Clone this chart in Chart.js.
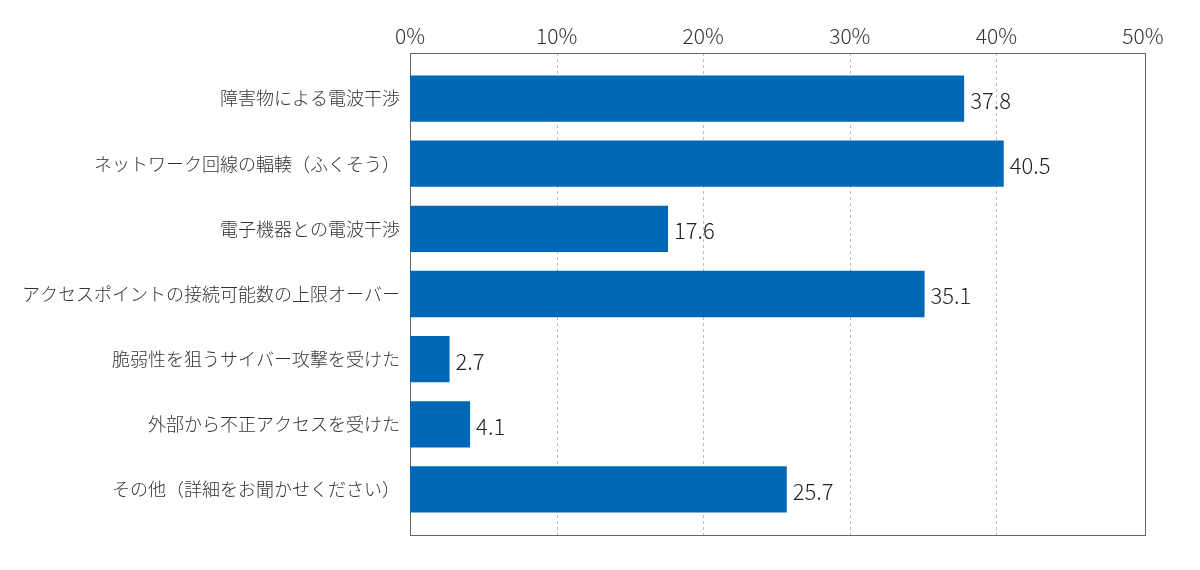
<!DOCTYPE html>
<html>
<head>
<meta charset="utf-8">
<script src="https://cdn.jsdelivr.net/npm/chart.js@4/dist/chart.umd.min.js"></script>
<style>
  html, body { margin: 0; padding: 0; background: #fff; }
  #wrap { width: 1200px; height: 570px; }
</style>
</head>
<body>
<div id="wrap"><canvas id="chart" width="1200" height="570"></canvas></div>
<script>
const categories = [
  '障害物による電波干渉',
  'ネットワーク回線の輻輳（ふくそう）',
  '電子機器との電波干渉',
  'アクセスポイントの接続可能数の上限オーバー',
  '脆弱性を狙うサイバー攻撃を受けた',
  '外部から不正アクセスを受けた',
  'その他（詳細をお聞かせください）'
];
const values = [37.8, 40.5, 17.6, 35.1, 2.7, 4.1, 25.7];
const tickMax = 50;
const tickStep = 10;

const FONT = '"Noto Sans CJK JP", "Noto Sans", sans-serif';
const EXTRA = 13; // frame sticks out above and below the bars

// dashed grid + frame around the plot
const framePlugin = {
  id: 'frame',
  beforeDatasetsDraw(chart) {
    const { ctx, chartArea: a, scales: { x } } = chart;
    ctx.save();
    ctx.strokeStyle = '#bdbdbd';
    ctx.lineWidth = 1;
    ctx.setLineDash([3, 3]);
    x.ticks.forEach(t => {
      if (t.value === 0 || t.value === tickMax) return;
      const px = Math.round(x.getPixelForValue(t.value)) + 0.5;
      ctx.beginPath();
      ctx.moveTo(px, a.top - EXTRA);
      ctx.lineTo(px, a.bottom + EXTRA);
      ctx.stroke();
    });
    ctx.setLineDash([]);
    ctx.strokeStyle = '#666';
    ctx.strokeRect(Math.round(a.left) + 0.5, Math.round(a.top - EXTRA) + 0.5,
      Math.round(a.right - a.left) + 2, Math.round(a.bottom - a.top + 2 * EXTRA));
    ctx.restore();
  }
};

// value labels right of each bar
const valueLabels = {
  id: 'valueLabels',
  afterDatasetsDraw(chart) {
    const { ctx } = chart;
    const meta = chart.getDatasetMeta(0);
    ctx.save();
    ctx.font = '300 22px ' + FONT;
    ctx.fillStyle = '#222';
    ctx.textAlign = 'left';
    ctx.textBaseline = 'middle';
    meta.data.forEach((bar, i) => {
      ctx.fillText(values[i].toFixed(1), bar.x + 6, bar.y + 2);
    });
    ctx.restore();
  }
};

new Chart(document.getElementById('chart'), {
  type: 'bar',
  data: {
    labels: categories,
    datasets: [{
      data: values,
      backgroundColor: '#0068b6',
      borderWidth: 0,
      barPercentage: 0.71,
      categoryPercentage: 1
    }]
  },
  options: {
    indexAxis: 'y',
    responsive: false,
    animation: false,
    devicePixelRatio: 1,
    layout: { padding: { left: 0, right: 57, top: 0, bottom: 48 } },
    plugins: {
      legend: { display: false },
      tooltip: { enabled: false }
    },
    scales: {
      x: {
        position: 'top',
        min: 0,
        max: tickMax,
        grid: { display: false, drawTicks: false },
        border: { display: false },
        ticks: {
          stepSize: tickStep,
          padding: 17,
          color: '#333',
          font: { family: FONT, size: 21, weight: '300' },
          callback: v => v + '%'
        },
        afterFit(scale) { scale.height = 66; }
      },
      y: {
        grid: { display: false, drawTicks: false },
        border: { display: false },
        ticks: {
          padding: 10,
          color: '#333',
          font: { family: FONT, size: 18, weight: '300' }
        },
        afterFit(scale) { scale.width = 410; }
      }
    }
  },
  plugins: [framePlugin, valueLabels]
});
</script>
</body>
</html>
